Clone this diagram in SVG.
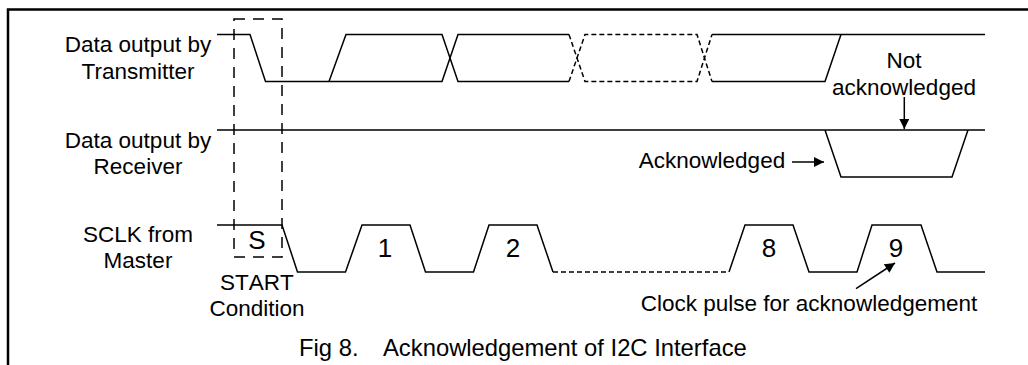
<svg xmlns="http://www.w3.org/2000/svg" width="1028" height="365" viewBox="0 0 1028 365">
<style>
text{font-family:"Liberation Sans",Arial,sans-serif;font-size:22.500px;fill:#000;text-anchor:middle}
.n{font-size:26px}
.s{text-anchor:start;font-size:23.800px}
.w{fill:none;stroke:#000;stroke-width:1.500}
.d{stroke-dasharray:5 3}
.b{stroke-dasharray:11 8}
</style>
<defs><marker id="a" viewBox="0 0 10 10" refX="10" refY="5" markerWidth="11" markerHeight="10" markerUnits="userSpaceOnUse" orient="auto"><path d="M0 0L10 5L0 10Z" fill="#000"/></marker></defs>
<g id="frame"><path d="M1028 9.500H8V365" fill="none" stroke="#000" stroke-width="2.500"/></g>
<g id="connectors">
<path class="w" d="M217 34.500H250L265.500 81.500H442L458 34.500H569"/>
<path class="w" d="M329 81.500L346 34.500H442L458 81.500H569"/>
<path class="w d" d="M569 81.500L585 34.500H697L712 81.500"/>
<path class="w d" d="M569 34.500L585 81.500H697L712 34.500"/>
<path class="w" d="M712 34.500H985M712 81.500H825L841 34.500"/>
<path class="w" d="M217 130H985M825 130L841 177H952L968 130"/>
<path class="w" d="M217 225H282L297.500 272H345.500L362 225H410L425.500 272H473.500L489 225H537L553 272"/>
<path class="w d" d="M553 272H729"/>
<path class="w" d="M729 272L745 225H793L809 272H857L872 225H921L937 272H985"/>
<rect class="w b" x="234" y="19" width="48" height="238"/>
<path class="w" d="M904.300 97V129" marker-end="url(#a)"/>
<path class="w" d="M792 162H824" marker-end="url(#a)"/>
<path class="w" d="M856 288.700L895 263" marker-end="url(#a)"/>
</g>
<g id="labels">
<text x="138" y="51.500">Data output by</text>
<text x="138" y="78.500">Transmitter</text>
<text x="138" y="147.500">Data output by</text>
<text x="138" y="174">Receiver</text>
<text x="138" y="242">SCLK from</text>
<text x="138" y="268">Master</text>
<text class="n" x="257" y="249">S</text>
<text x="257" y="289.500" style="font-kerning:none">START</text>
<text x="257" y="316">Condition</text>
<text class="n" x="385" y="256.500">1</text>
<text class="n" x="513" y="256.500">2</text>
<text class="n" x="769" y="256.500">8</text>
<text class="n" x="896" y="256.500">9</text>
<text x="904" y="68">Not</text>
<text x="904" y="94.500">acknowledged</text>
<text x="712" y="168">Acknowledged</text>
<text x="809" y="310.500">Clock pulse for acknowledgement</text>
<text class="s" x="299" y="355.500">Fig 8.<tspan x="383">Acknowledgement of I2C Interface</tspan></text>
</g>
</svg>
